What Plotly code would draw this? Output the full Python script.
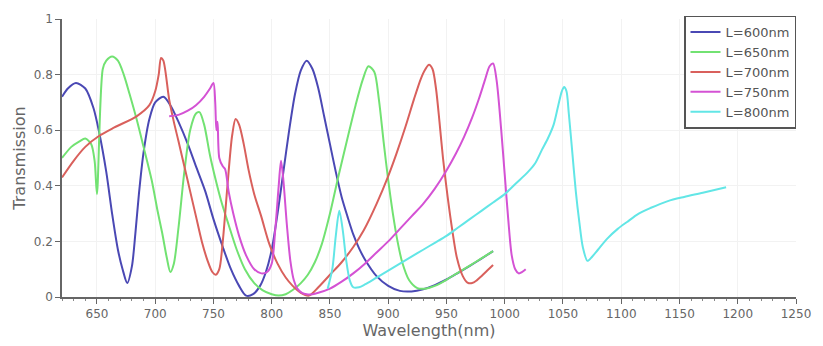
import plotly.graph_objects as go

# ---------------- data ----------------
labels = ["L=600nm", "L=650nm", "L=700nm", "L=750nm", "L=800nm"]
colors = ["#4a48b4", "#72e272", "#d9605c", "#d452d4", "#62e6e6"]

wl_600 = [620, 625, 632, 640, 647, 652, 658, 663, 668, 672, 676, 680, 683, 686, 690, 695, 700, 707,
          713, 720, 728, 735, 743, 750, 758, 765, 772, 778, 784, 790, 795, 800, 805, 810, 815, 820,
          825, 830, 835, 840, 845, 850, 855, 860, 865, 870, 875, 880, 890, 900, 910, 920, 930, 940,
          950, 960, 970, 980, 990]
t_600 = [0.72, 0.75, 0.77, 0.75, 0.68, 0.59, 0.45, 0.30, 0.17, 0.10, 0.05, 0.11, 0.23, 0.37, 0.52,
         0.64, 0.70, 0.72, 0.69, 0.63, 0.55, 0.47, 0.38, 0.28, 0.18, 0.10, 0.04, 0.005, 0.01, 0.04,
         0.09, 0.17, 0.30, 0.45, 0.60, 0.73, 0.815, 0.85, 0.82, 0.75, 0.65, 0.55, 0.45, 0.36, 0.29,
         0.225, 0.175, 0.135, 0.075, 0.04, 0.022, 0.02, 0.028, 0.043, 0.063, 0.087, 0.112, 0.138, 0.165]

wl_650 = [620, 628, 635, 640, 645, 648, 650, 655, 658, 663, 668, 673, 678, 684, 690, 697, 702, 706,
          710, 713, 716, 720, 725, 730, 735, 738, 742, 747, 752, 757, 763, 770, 777, 785, 792, 800,
          806, 812, 818, 825, 831, 837, 843, 850, 857, 865, 872, 878, 883, 888, 892, 896, 900, 904,
          908, 912, 918, 925, 932, 940, 950, 960, 970, 980, 990]
t_650 = [0.50, 0.54, 0.56, 0.57, 0.55, 0.49, 0.37, 0.82, 0.85, 0.865, 0.85, 0.80, 0.73, 0.64, 0.54,
         0.42, 0.31, 0.23, 0.14, 0.09, 0.12, 0.25, 0.45, 0.60, 0.66, 0.665, 0.62, 0.51, 0.42, 0.34,
         0.26, 0.17, 0.10, 0.05, 0.025, 0.01, 0.005, 0.01, 0.025, 0.05, 0.08, 0.125, 0.19, 0.30,
         0.43, 0.57, 0.69, 0.78, 0.83, 0.81, 0.71, 0.56, 0.42, 0.30, 0.20, 0.125, 0.06, 0.032, 0.03,
         0.04, 0.062, 0.088, 0.113, 0.139, 0.165]

wl_700 = [620, 630, 640, 652, 665, 684, 695, 700, 703, 705, 707, 712, 716, 720, 725, 730, 735, 740,
          745, 749, 752, 755, 758, 762, 766, 769, 772, 776, 780, 785, 791, 798, 805, 812, 818, 825,
          832, 840, 850, 860, 870, 879, 890, 900, 907, 915, 922, 928, 932, 935, 938, 941, 944, 947,
          951, 955, 959, 964, 968, 972, 976, 980, 985, 990]
t_700 = [0.43, 0.49, 0.54, 0.58, 0.61, 0.65, 0.69, 0.74, 0.80, 0.86, 0.85, 0.71, 0.63, 0.56, 0.47,
         0.38, 0.29, 0.20, 0.13, 0.09, 0.08, 0.10, 0.20, 0.40, 0.58, 0.64, 0.62, 0.55, 0.46, 0.37,
         0.29, 0.19, 0.12, 0.07, 0.04, 0.015, 0.005, 0.035, 0.08, 0.125, 0.18, 0.24, 0.335, 0.435,
         0.515, 0.615, 0.71, 0.785, 0.82, 0.835, 0.82, 0.75, 0.63, 0.50, 0.36, 0.24, 0.14, 0.075,
         0.052, 0.05, 0.06, 0.075, 0.095, 0.115]

wl_750 = [712, 720, 728, 735, 742, 747, 750, 751.5, 752.5, 753.5, 755, 758, 760, 763, 767, 772, 778,
          785, 791, 796, 800, 803, 806, 808, 810, 813, 816, 819, 822, 826, 830, 835, 840, 850, 860,
          870, 880, 890, 900, 910, 920, 930, 940, 950, 958, 965, 972, 978, 983, 987, 990, 993, 997,
          1000, 1003, 1006, 1009, 1012, 1015, 1018]
t_750 = [0.65, 0.655, 0.67, 0.69, 0.72, 0.75, 0.77, 0.70, 0.60, 0.63, 0.50, 0.47, 0.46, 0.38, 0.30,
         0.22, 0.15, 0.10, 0.085, 0.09, 0.12, 0.24, 0.40, 0.49, 0.42, 0.26, 0.13, 0.06, 0.03, 0.015,
         0.01, 0.01, 0.015, 0.03, 0.055, 0.085, 0.12, 0.16, 0.20, 0.245, 0.29, 0.335, 0.39, 0.455,
         0.515, 0.575, 0.645, 0.715, 0.78, 0.83, 0.84, 0.78, 0.60, 0.44, 0.28, 0.15, 0.10, 0.085,
         0.09, 0.10]

wl_800 = [848, 852, 855, 858, 861, 864, 867, 870, 875, 880, 890, 900, 910, 920, 930, 940, 950, 960,
          970, 980, 990, 1000, 1010, 1020, 1026, 1032, 1037, 1042, 1046, 1049, 1051, 1053, 1055,
          1058, 1061, 1064, 1067, 1071, 1075, 1080, 1088, 1097, 1105, 1115, 1125, 1140, 1154, 1170,
          1190]
t_800 = [0.03, 0.10, 0.22, 0.31, 0.24, 0.13, 0.06, 0.035, 0.035, 0.045, 0.07, 0.095, 0.12, 0.145,
         0.17, 0.195, 0.22, 0.25, 0.28, 0.31, 0.34, 0.37, 0.41, 0.45, 0.48, 0.53, 0.57, 0.62, 0.69,
         0.74, 0.755, 0.74, 0.66, 0.52, 0.38, 0.27, 0.18, 0.13, 0.145, 0.17, 0.21, 0.245, 0.27, 0.30,
         0.32, 0.345, 0.36, 0.375, 0.395]

x_ticks = [650, 700, 750, 800, 850, 900, 950, 1000, 1050, 1100, 1150, 1200, 1250]
y_ticks = [0, 0.2, 0.4, 0.6, 0.8, 1]
y_tick_text = ["0", "0.2", "0.4", "0.6", "0.8", "1"]

series = [(wl_600, t_600), (wl_650, t_650), (wl_700, t_700), (wl_750, t_750), (wl_800, t_800)]

# ---------------- figure ----------------
fig = go.Figure()
for (xs, ys), name, col in zip(series, labels, colors):
    fig.add_trace(go.Scatter(x=xs, y=ys, mode="lines", name=name,
                             line=dict(color=col, width=2, shape="spline", smoothing=0.8)))

font_family = "DejaVu Sans, Verdana, sans-serif"
fig.update_layout(
    width=823, height=346,
    margin=dict(l=62, r=20, t=15, b=43),
    paper_bgcolor="white", plot_bgcolor="white",
    font=dict(family=font_family, color="#555555", size=12),
    showlegend=True,
    legend=dict(x=1, y=1.012, xanchor="right", yanchor="top",
                bordercolor="#555555", borderwidth=1.5, bgcolor="white",
                font=dict(size=13, color="#555555"), tracegroupgap=0),
)
fig.update_xaxes(
    range=[620, 1250], tickvals=x_ticks, showline=True, linecolor="#666666", linewidth=1.5,
    ticks="outside", ticklen=5, tickcolor="#666666", showgrid=True, gridcolor="#f2f2f2",
    zeroline=False, tickfont=dict(size=12, color="#666666"),
    minor=dict(dtick=10, ticks="outside", ticklen=2, tickcolor="#888888", showgrid=False),
    title=dict(text="Wavelength(nm)", font=dict(size=16, color="#666666"), standoff=2),
)
fig.update_yaxes(
    range=[0, 1], tickvals=y_ticks, ticktext=y_tick_text, showline=True, linecolor="#666666",
    linewidth=1.5, ticks="outside", ticklen=5, tickcolor="#666666", showgrid=True,
    gridcolor="#f2f2f2", zeroline=False, tickfont=dict(size=12, color="#666666"),
    title=dict(text="Transmission", font=dict(size=16, color="#666666"), standoff=4),
)

fig.write_html("out.html")
